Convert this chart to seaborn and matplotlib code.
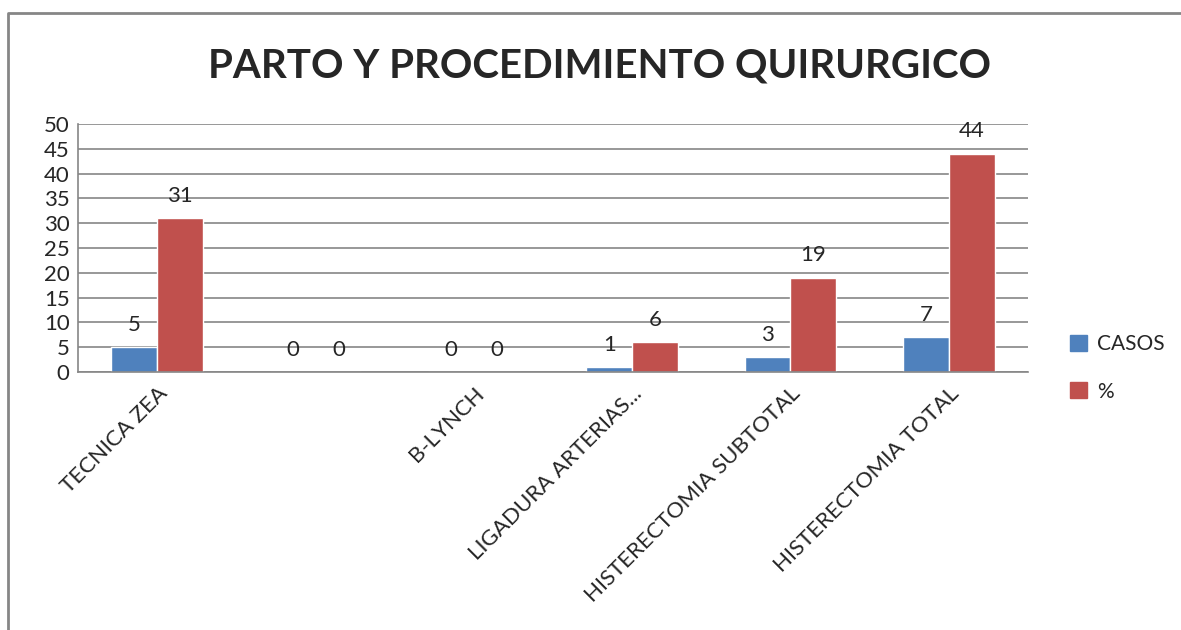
import numpy as np
import pandas as pd
import matplotlib
matplotlib.use('Agg')
import matplotlib.pyplot as plt
import seaborn as sns

# data
categorias = ['TECNICA ZEA', '', 'B-LYNCH', 'LIGADURA ARTERIAS...',
              'HISTERECTOMIA SUBTOTAL', 'HISTERECTOMIA TOTAL']
casos = [5, 0, 0, 1, 3, 7]
porcentaje = [31, 0, 0, 6, 19, 44]

series = ['CASOS', '%']
colores = ['#4F81BD', '#C0504D']

df = pd.DataFrame({
    'cat': list(range(len(categorias))) * 2,
    'valor': casos + porcentaje,
    'serie': ['CASOS'] * len(casos) + ['%'] * len(porcentaje),
})

sns.set_style('white')
plt.rcParams['font.family'] = ['Lato', 'DejaVu Sans']

fig = plt.figure(figsize=(11.81, 6.3), dpi=100)
ax = fig.add_axes([78 / 1181, 1 - 372 / 630, (1028 - 78) / 1181, (372 - 124) / 630])

sns.barplot(data=df, x='cat', y='valor', hue='serie', hue_order=series,
            palette=colores, width=0.58, saturation=1, ax=ax, legend=False)

for cont in ax.containers:
    ax.bar_label(cont, fmt='%d', padding=9, fontsize=16)

ax.set_ylim(0, 50)
ax.set_yticks(np.arange(0, 51, 5))
ax.set_xlim(-0.5, len(categorias) - 0.5)
ax.set_xticks(range(len(categorias)))
ax.set_xticklabels(categorias, rotation=45, ha='right', rotation_mode='anchor', fontsize=16)
ax.tick_params(axis='y', labelsize=16, length=0, pad=6)
ax.tick_params(axis='x', length=0, pad=8)
ax.yaxis.grid(True, color='#868686', linewidth=1.2)
ax.set_axisbelow(True)
ax.set_xlabel('')
ax.set_ylabel('')
for s in ['top', 'right']:
    ax.spines[s].set_visible(False)
for s in ['left', 'bottom']:
    ax.spines[s].set_color('#868686')
    ax.spines[s].set_linewidth(1.2)

fig.text(600 / 1181, 1 - 66 / 630, 'PARTO Y PROCEDIMIENTO QUIRURGICO',
         ha='center', va='center', fontsize=29, fontweight='bold')

handles = [plt.Rectangle((0, 0), 1, 1, color=c) for c in colores]
fig.legend(handles, series, loc='center left', bbox_to_anchor=(1070 / 1181, 1 - 368 / 630),
           frameon=False, fontsize=15, handlelength=0.8, handleheight=0.8,
           labelspacing=1.3, handletextpad=0.5, borderpad=0, borderaxespad=0)

# chart border (only top and left edges show)
fig.add_artist(plt.Line2D([8 / 1181, 8 / 1181, 1], [0, 1 - 13 / 630, 1 - 13 / 630],
                          transform=fig.transFigure, color='#868686', linewidth=2))

fig.savefig('out.png', dpi=100)
